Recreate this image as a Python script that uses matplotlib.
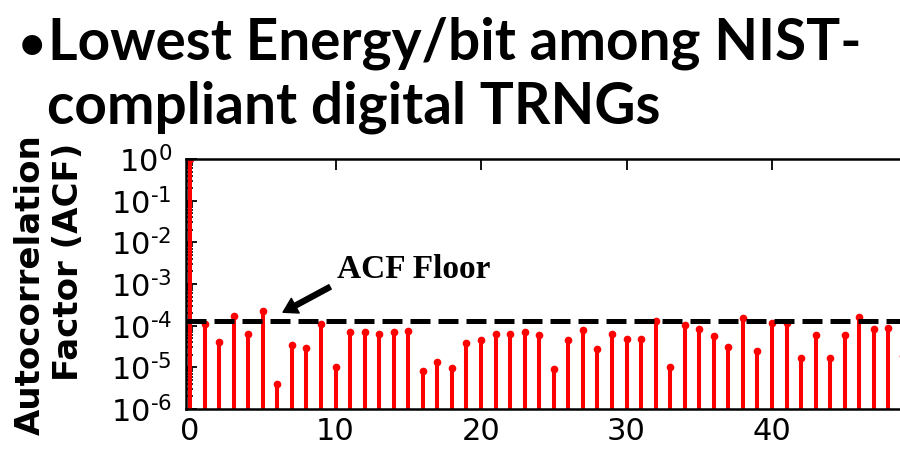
import numpy as np
import matplotlib
matplotlib.use('Agg')
import matplotlib.pyplot as plt
from matplotlib.ticker import FixedLocator, FixedFormatter, LogLocator, NullFormatter

# ACF values per lag
lags = np.arange(50)
acf = [1.0, 1.1e-4, 4.1e-5, 1.74e-4, 6.2e-5, 2.2e-4, 4.0e-6, 3.4e-5, 2.9e-5, 1.07e-4,
       1.02e-5, 7.1e-5, 7.1e-5, 6.2e-5, 7.1e-5, 7.6e-5, 8.3e-6, 1.37e-5, 9.8e-6, 3.9e-5,
       4.5e-5, 6.2e-5, 6.2e-5, 6.9e-5, 6.0e-5, 8.9e-6, 4.5e-5, 7.9e-5, 2.7e-5, 6.3e-5,
       4.7e-5, 4.9e-5, 1.3e-4, 1.04e-5, 1.04e-4, 8.2e-5, 5.5e-5, 3.0e-5, 1.55e-4, 2.5e-5,
       1.18e-4, 1.15e-4, 1.65e-5, 5.9e-5, 1.65e-5, 5.9e-5, 1.65e-4, 8.3e-5, 8.7e-5, 1.9e-5]
acf_floor = 1.3e-4
xticks = [0, 10, 20, 30, 40, 50]
yexps = [0, -1, -2, -3, -4, -5, -6]

W, H = 900, 472
fig = plt.figure(figsize=(9, 4.72), dpi=100)
ax = fig.add_axes([185.7 / W, 1 - 409 / H, (917.5 - 185.7) / W, (409 - 159) / H])

# stems
ml, sl, bl = ax.stem(lags, acf, bottom=1e-9, linefmt='r-', markerfmt='ro', basefmt=' ')
plt.setp(sl, linewidth=2.9)
plt.setp(ml, markersize=4.5)
ax.axhline(acf_floor, color='k', lw=3.6, dashes=(4, 1.6), zorder=4)

ax.set_yscale('log')
ax.set_ylim(1e-6, 1)
ax.set_xlim(-0.3, 50)
ax.set_xticks(xticks)
ax.yaxis.set_major_locator(FixedLocator([10.0 ** e for e in yexps]))
ax.yaxis.set_major_formatter(FixedFormatter(['10$^{\\text{-}%d}$' % -e if e else '10$^{0}$'
                                             for e in yexps]))
ax.yaxis.set_minor_locator(LogLocator(base=10, subs=np.arange(2, 10), numticks=20))
ax.yaxis.set_minor_formatter(NullFormatter())
ax.tick_params(axis='both', which='major', direction='in', length=8, width=1.3,
               labelsize=22, top=True, right=True)
ax.tick_params(axis='y', which='minor', direction='in', length=5, width=1.2, right=True,
               zorder=5)
ax.tick_params(axis='y', pad=10)
ax.tick_params(axis='x', pad=6)
for s in ax.spines.values():
    s.set_linewidth(1.8)

# annotation
ax.annotate('', xy=(6.39, 2.1e-4), xytext=(9.62, 8.5e-4),
            arrowprops=dict(facecolor='black', edgecolor='black', width=3.6,
                            headwidth=12, headlength=10, shrink=0))
ax.text(10.1, 1.39e-3, 'ACF Floor', family='Liberation Serif', fontweight='bold',
        fontsize=24, va='baseline', ha='left')

# y label (two lines, placed separately)
fig.text(30 / W, 1 - 284.5 / H, 'Autocorrelation', rotation=90, fontsize=24.5,
         fontweight='bold', ha='center', va='center')
fig.text(68 / W, 1 - 262 / H, 'Factor (ACF)', rotation=90, fontsize=24.5,
         fontweight='bold', ha='center', va='center')
# x label, almost entirely below the slide edge
fig.text(522 / W, 1 - 500 / H, 'Lag', fontsize=26, fontweight='bold', ha='left',
         va='baseline')

# slide title
t1 = fig.text(48 / W, 1 - 60 / H, 'Lowest Energy/bit among NIST-', fontsize=44,
              fontweight='bold', family='Lato', va='baseline')
t2 = fig.text(47 / W, 1 - 124 / H, 'compliant digital TRNGs', fontsize=44,
              fontweight='bold', family='Lato', va='baseline')
fig.canvas.draw()
r = fig.canvas.get_renderer()
size = 44 * 814 / t1.get_window_extent(r).width
for t in (t1, t2):
    t.set_fontsize(size)
fig.text(32 / W, 1 - 59 / H, '\u2022', fontsize=size * 0.8, fontweight='bold',
         family='Lato', va='baseline', ha='center')

fig.savefig('out.png', dpi=100)
